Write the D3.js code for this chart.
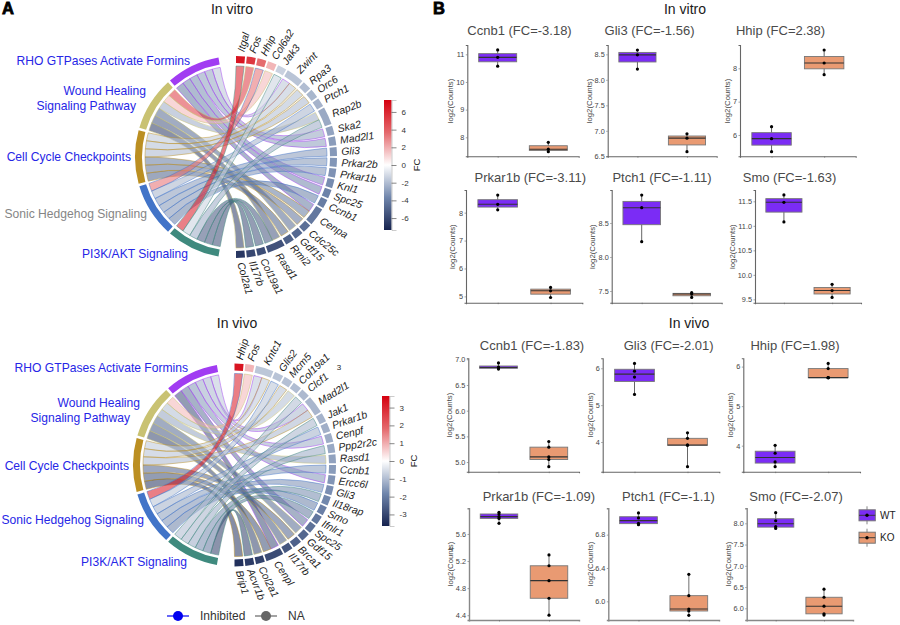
<!DOCTYPE html>
<html><head><meta charset="utf-8">
<script src="https://cdn.jsdelivr.net/npm/d3@7"></script>
<style>
html,body{margin:0;padding:0;background:#fff}
svg{display:block}
text{font-family:"Liberation Sans",Arial,sans-serif}
</style></head><body>
<svg id="c" width="900" height="625" viewBox="0 0 900 625"></svg>
<script>
// ---------- chord data ----------
const termNames = ["RHO GTPases Activate Formins","Wound Healing\nSignaling Pathway","Cell Cycle Checkpoints","Sonic Hedgehog Signaling","PI3K/AKT Signaling"];
const termColors = ["#a13cf2","#c9c272","#bb8f22","#4274c8","#3f8a7e"];

const vitroGenes = ["Itgal","Fos","Hhip","Col6a2","Jak3","Zwint","Rpa3","Orc6","Ptch1","Rap2b","Ska2","Mad2l1","Gli3","Prkar2b","Prkar1b","Knl1","Spc25","Ccnb1","Cenpa","Cdc25c","Gdf15","Rmi2","Rasd1","Col19a1","Il17rb","Col2a1"];
const vitroFC = [6.6,5.4,3.6,1.8,-1.4,-1.8,-2,-2.2,-2.3,-2.6,-2.8,-3,-3.1,-3.2,-3.3,-3.5,-3.8,-4,-4.2,-4.5,-4.8,-5.1,-5.6,-5.8,-6,-6.6];
const vitroRHO = ["Zwint","Ska2","Mad2l1","Knl1","Spc25","Cenpa"];
const vitroWound = ["Fos","Col6a2","Rap2b","Gdf15","Rasd1","Col2a1"];
const vitroCell = ["Zwint","Rpa3","Orc6","Cenpa","Cdc25c","Rmi2"];
const vitroSHH = ["Hhip","Ptch1","Gli3","Prkar2b","Prkar1b","Ccnb1"];
const vitroPI3K = ["Itgal","Jak3","Rap2b","Rasd1","Col19a1","Il17rb"];

const vivoGenes = ["Hhip","Fos","Kntc1","Glis2","Mcm5","Col19a1","Clcf1","Mad2l1","Jak1","Prkar1b","Cenpf","Ppp2r2c","Rasd1","Ccnb1","Ercc6l","Gli3","Il18rap","Smo","Ifnlr1","Spc25","Gdf15","Brca1","Il17rb","Cenpl","Col2a1","Acvr1b","Brip1"];
const vivoFC = [3.3,0.9,-0.85,-0.9,-0.95,-1,-1.05,-1.1,-1.15,-1.2,-1.25,-1.3,-1.4,-1.5,-1.6,-1.7,-1.8,-1.95,-2.1,-2.2,-2.4,-2.5,-2.7,-2.9,-3.1,-3.2,-3.4];
const vivoRHO = ["Kntc1","Mad2l1","Cenpf","Ercc6l","Spc25","Cenpl"];
const vivoWound = ["Fos","Col19a1","Rasd1","Gdf15","Il17rb","Col2a1"];
const vivoCell = ["Kntc1","Mcm5","Mad2l1","Brca1","Cenpl","Brip1"];
const vivoSHH = ["Hhip","Glis2","Prkar1b","Ccnb1","Gli3","Smo"];
const vivoPI3K = ["Clcf1","Jak1","Ppp2r2c","Il18rap","Ifnlr1","Acvr1b"];

// ---------- box plot data (log2 counts per sample) ----------
const groups = ["WT","KO"];
const vitroCcnb1 = [[11.16,10.89,10.57],[7.82,7.57,7.48]];
const vitroGli3 = [[8.585,8.49,8.21],[6.94,6.856,6.59]];
const vitroHhip = [[6.25,5.89,5.5],[8.55,8.16,7.81]];
const vitroPrkar1b = [[8.63,8.3,8.1],[5.32,5.2,4.96]];
const vitroPtch1 = [[8.91,8.725,8.225],[7.475,7.455,7.405]];
const vitroSmo = [[11.63,11.48,11.08],[9.806,9.68,9.54]];
const vivoCcnb1 = [[6.93,6.85,6.83,6.81],[5.4,5.29,5.1,5.05,4.91]];
const vivoGli3 = [[6.13,5.92,5.76,5.29],[4.25,4.1,3.92,3.91,3.33]];
const vivoHhip = [[4.01,3.81,3.59,3.47],[6.08,5.95,5.72,5.72,5.72]];
const vivoPrkar1b = [[5.92,5.895,5.856,5.83,5.757],[5.29,5.13,4.91,4.65,4.4]];
const vivoPtch1 = [[7.06,7,6.936,6.92],[6.324,6.068,5.908,5.884,5.832]];
const vivoSmo = [[8.25,8.06,7.92,7.88],[6.45,6.26,6.05,5.87,5.84]];

const titles = ["Ccnb1 (FC=-3.18)","Gli3 (FC=-1.56)","Hhip (FC=2.38)","Prkar1b (FC=-3.11)","Ptch1 (FC=-1.11)","Smo (FC=-1.63)","Ccnb1 (FC=-1.83)","Gli3 (FC=-2.01)","Hhip (FC=1.98)","Prkar1b (FC=-1.09)","Ptch1 (FC=-1.1)","Smo (FC=-2.07)"];
const tickSets = [[8,9,10,11],[6.5,7,7.5,8,8.5],[6,7,8],[5,6,7,8],[7.5,8,8.5],[9.5,10,10.5,11,11.5],[5,5.5,6,6.5,7],[4,5,6],[4,5,6],[4.4,4.8,5.2,5.6],[6,6.4,6.8],[6,6.5,7,7.5,8]];
const yDomains = [[7.313,11.337],[6.5,8.683],[5.36,8.7],[4.774,8.812],[7.328,8.985],[9.432,11.731],[4.812,7.02],[3.195,6.27],[3.342,6.21],[4.329,5.979],[5.776,7.116],[5.725,8.353]];
const tickDigits = [0,1,0,0,1,1,1,0,0,1,1,1];

// ---------- layout & style ----------
const svg = d3.select("#c");
const navy="#16234f", red="#d5000f", steel="#7086ac", coral="#e4686c";
const gap = 1.5, unit = (160-4*gap)/30;          // degrees
const rad = d => d*Math.PI/180;

function chord(o){
  const g = svg.append("g").attr("transform",`translate(${o.cx},${o.cy})`);
  const stops=[-o.max,-o.max/2,0,o.max/2,o.max];
  const color = d3.scaleLinear().domain(stops).range([navy,steel,"#ffffff",coral,red]);
  const lists = o.terms;
  const count = new Map(o.genes.map(n=>[n,0]));
  lists.forEach(l=>l.forEach(n=>count.set(n,count.get(n)+1)));
  const geneGap = (180-30*unit)/(o.genes.length-1);
  let a = 0; const gpos = new Map();
  o.genes.forEach((n,i)=>{ const w=count.get(n)*unit; gpos.set(n,{s:a,e:a+w,next:a,fc:o.fc[i]}); a+=w+geneGap; });
  let t = 350; const links=[];
  const tpos = lists.map((l,ti)=>{
    const e=t, s=t-l.length*unit;
    l.forEach((n,k)=>{
      links.push({term:ti,gene:n,te:e-k*unit,ts:e-(k+1)*unit});
    });
    t = s-gap; return {s,e,ti};
  });
  links.slice().sort((p,q)=>q.te-p.te).forEach(l=>{
    const p=gpos.get(l.gene); l.gs=p.next; l.ge=p.next+unit; p.next+=unit; l.fc=p.fc;
  });
  const ribbon = d3.ribbon().radius(o.r0);
  g.selectAll("path.link").data(links).join("path").attr("class","link")
    .attr("d",d=>ribbon({source:{startAngle:rad(d.ts),endAngle:rad(d.te)},target:{startAngle:rad(d.gs),endAngle:rad(d.ge)}}))
    .attr("fill",d=>color(d.fc)).attr("fill-opacity",.55)
    .attr("stroke",d=>termColors[d.term]).attr("stroke-width",.6).attr("stroke-opacity",.8);
  const arc = d3.arc().innerRadius(o.r1).outerRadius(o.r2);
  g.selectAll("path.term").data(tpos).join("path").attr("class","term")
    .attr("d",d=>arc({startAngle:rad(d.s),endAngle:rad(d.e)})).attr("fill",d=>termColors[d.ti]);
  const gl=o.genes.map(n=>gpos.get(n));
  g.selectAll("path.gene").data(gl).join("path").attr("class","gene")
    .attr("d",d=>arc({startAngle:rad(d.s),endAngle:rad(d.e)})).attr("fill",d=>color(d.fc));
  g.selectAll("text.gl").data(o.genes).join("text").attr("class","gl")
    .attr("transform",n=>{const p=gpos.get(n),m=(p.s+p.e)/2;
      const x=o.r3*Math.sin(rad(m)), y=-o.r3*Math.cos(rad(m));
      return `translate(${x},${y}) rotate(${(m-90)*0.85})`;})
    .attr("dy","0.35em").attr("font-style","italic").attr("font-size",10.4).attr("fill","#1c1c1c").text(n=>n);
  o.labels.forEach((l)=>{
    l.lines.forEach((ln)=>{
      svg.append("text").attr("x",ln.x).attr("y",ln.y).attr("dy","0.35em").attr("text-anchor","end")
        .attr("font-size",12.1).attr("fill",l.grey?"#858585":"#2626e6").text(ln.t);
    });
  });
  const defs=svg.append("defs");
  const gr=defs.append("linearGradient").attr("id",o.id).attr("x1",0).attr("x2",0).attr("y1",1).attr("y2",0);
  stops.forEach(v=>gr.append("stop").attr("offset",(v+o.max)/(2*o.max)).attr("stop-color",color(v)));
  svg.append("rect").attr("x",o.bar.x).attr("y",o.bar.y).attr("width",o.bar.w).attr("height",o.bar.h).attr("fill",`url(#${o.id})`);
  const ys=d3.scaleLinear().domain([-o.max,o.max]).range([o.bar.y+o.bar.h,o.bar.y]);
  const ax=svg.append("g").attr("transform",`translate(${o.bar.x+o.bar.w},0)`).call(d3.axisRight(ys).tickValues(o.ticks).tickSize(5).tickPadding(5).tickFormat(d=>String(d)));
  ax.select(".domain").attr("stroke","#aaa").attr("stroke-width",.6);
  ax.selectAll("line").attr("stroke","#555").attr("stroke-width",.7);
  ax.selectAll("text").attr("font-size",8).attr("fill","#333").attr("font-family",'"Liberation Sans"');
  svg.append("text").attr("transform",`translate(${o.bar.fx},${o.bar.y+o.bar.h/2}) rotate(-90)`).attr("text-anchor","middle").attr("dy","0.35em").attr("font-size",9.5).attr("fill","#222").text("FC");
}

chord({id:"g1",cx:236,cy:157,r0:91,r1:94,r2:101,r3:105.5,genes:vitroGenes,fc:vitroFC,max:7.35,
  terms:[vitroRHO,vitroWound,vitroCell,vitroSHH,vitroPI3K],ticks:[-6,-4,-2,0,2,4,6],
  bar:{x:384,y:100,w:7.5,h:130,fx:417},
  labels:[{lines:[{t:termNames[0],x:190,y:61}]},
    {lines:[{t:termNames[1].split("\n")[0],x:146,y:91},{t:termNames[1].split("\n")[1],x:136,y:106}]},
    {lines:[{t:termNames[2],x:131,y:157}]},{grey:true,lines:[{t:termNames[3],x:147,y:214}]},{lines:[{t:termNames[4],x:188,y:254}]}]});
chord({id:"g2",cx:234.5,cy:465,r0:91.5,r1:94.5,r2:101.5,r3:105.5,genes:vivoGenes,fc:vivoFC,max:3.65,
  terms:[vivoRHO,vivoWound,vivoCell,vivoSHH,vivoPI3K],ticks:[-3,-2,-1,0,1,2,3],
  bar:{x:382,y:396,w:7.5,h:130,fx:414},
  labels:[{lines:[{t:termNames[0],x:188,y:368}]},
    {lines:[{t:termNames[1].split("\n")[0],x:140,y:403},{t:termNames[1].split("\n")[1],x:130,y:418}]},
    {lines:[{t:termNames[2],x:129,y:466}]},{lines:[{t:termNames[3],x:144,y:520}]},{lines:[{t:termNames[4],x:187,y:562}]}]});
svg.append("text").attr("x",339).attr("y",367).attr("dy","0.35em").attr("text-anchor","middle").attr("font-size",8).attr("fill","#222").text("3");

const heading=(t,x,y)=>svg.append("text").attr("x",x).attr("y",y).attr("dy","0.35em").attr("text-anchor","middle").attr("font-size",14).attr("fill","#1a1a1a").text(t);
heading("In vitro",232,9.5); heading("In vivo",237,323); heading("In vitro",685,9.5); heading("In vivo",689,323);
const panelLetter=(t,x,y)=>svg.append("text").attr("x",x).attr("y",y).attr("font-size",16.5).attr("font-weight",700).attr("fill","#000").attr("stroke","#000").attr("stroke-width",.8).text(t);
panelLetter("A",2,14); panelLetter("B",433,14);

[[167,189,"#0000f0","Inhibited",200],[255,277,"#666666","NA",288]].forEach(([x0,x1,c,t,tx])=>{
  svg.append("line").attr("x1",x0).attr("x2",x1).attr("y1",616).attr("y2",616).attr("stroke",c).attr("stroke-width",1.2);
  svg.append("circle").attr("cx",(x0+x1)/2).attr("cy",616).attr("r",5).attr("fill",c);
  svg.append("text").attr("x",tx).attr("y",616).attr("dy","0.35em").attr("font-size",12).attr("fill","#333").text(t);
});

// ---------- box plots ----------
const fills={WT:"#7b2cf5",KO:"#e99a72"};
const boxFrames=[
 {l:467.3,r:578.7,t:45,b:156.3,tc:519.5,ty:30,yl:450.7,yc:101},
 {l:607.7,r:716.7,t:45,b:156.3,tc:649.5,ty:30,yl:589,yc:101},
 {l:740,r:855.7,t:45,b:156.3,tc:780.5,ty:30,yl:727.7,yc:101},
 {l:466,r:582.3,t:190,b:302.7,tc:530.3,ty:177.7,yl:452.7,yc:246.7},
 {l:611.7,r:721.7,t:190,b:302.7,tc:662,ty:177.7,yl:592.7,yc:246.7},
 {l:755,r:861,t:190,b:302.7,tc:789.5,ty:177.7,yl:732,yc:246.7},
 {l:468.3,r:579,t:358.3,b:471.7,tc:532,ty:345,yl:449.3,yc:415},
 {l:602.7,r:719.3,t:358.3,b:471.7,tc:668.7,ty:345,yl:590,yc:415},
 {l:743.3,r:860,t:358.3,b:471.7,tc:795,ty:345,yl:730.7,yc:415},
 {l:469,r:579,t:508.3,b:620,tc:538.8,ty:496,yl:450.7,yc:564},
 {l:608.3,r:719,t:508.3,b:620,tc:668.5,ty:496,yl:590,yc:564},
 {l:746.7,r:853,t:508.3,b:620,tc:796,ty:496,yl:728,yc:564}];
const boxData=[vitroCcnb1,vitroGli3,vitroHhip,vitroPrkar1b,vitroPtch1,vitroSmo,vivoCcnb1,vivoGli3,vivoHhip,vivoPrkar1b,vivoPtch1,vivoSmo];

boxData.forEach((data,i)=>{
  const f=boxFrames[i], g=svg.append("g");
  const soft=i>=9;
  const x=d3.scalePoint().domain(groups).range([f.l,f.r]).padding(.6);
  const y=d3.scaleLinear().domain(yDomains[i]).range([f.b,f.t]);
  const bw=x.step()*.75;
  const ax=g.append("g").attr("transform",`translate(${f.l},0)`).call(d3.axisLeft(y).tickValues(tickSets[i]).tickSize(1.5).tickPadding(1.5).tickFormat(d3.format(`.${tickDigits[i]}f`)));
  const bx=g.append("g").attr("transform",`translate(0,${f.b})`).call(d3.axisBottom(x).tickSize(1.5).tickFormat(""));
  [ax,bx].forEach(a=>{a.select(".domain").attr("stroke",soft?"#888":"#666").attr("stroke-width",soft?1.4:1.1);a.selectAll("line").attr("stroke","#666").attr("stroke-width",.6);});
  ax.selectAll("text").attr("font-size",7.3).attr("fill","#444").attr("font-family",'"Liberation Sans"');
  groups.forEach((k,gi)=>{
    const v=data[gi].slice().sort(d3.ascending);
    const q1=d3.quantile(v,.25),m=d3.quantile(v,.5),q3=d3.quantile(v,.75);
    g.append("line").attr("x1",x(k)).attr("x2",x(k)).attr("y1",y(v[0])).attr("y2",y(v[v.length-1])).attr("stroke",soft?"#888":"#555").attr("stroke-width",soft?1.2:.9);
    g.append("rect").attr("x",x(k)-bw/2).attr("width",bw).attr("y",y(q3)).attr("height",Math.max(y(q1)-y(q3),1))
      .attr("fill",fills[k]).attr("stroke","#777").attr("stroke-width",.9);
    g.append("line").attr("x1",x(k)-bw/2).attr("x2",x(k)+bw/2).attr("y1",y(m)).attr("y2",y(m)).attr("stroke","#333").attr("stroke-width",1.1);
    g.selectAll(null).data(v).join("circle").attr("cx",x(k)).attr("cy",d=>y(d)).attr("r",1.6).attr("fill","#000");
  });
  svg.append("text").attr("x",f.tc).attr("y",f.ty).attr("dy","0.35em").attr("text-anchor","middle").attr("font-size",13).attr("fill","#4a4a4a").text(titles[i]);
  svg.append("text").attr("transform",`translate(${f.yl},${f.yc}) rotate(-90)`).attr("dy","0.35em").attr("text-anchor","middle").attr("font-size",7.8).attr("fill","#444").text("log2(Counts)");
});
svg.append("text").attr("transform","translate(451.5,549) rotate(-90)").attr("dy","0.35em").attr("text-anchor","middle").attr("font-size",7.8).attr("fill","#444").text("4");

[["WT",515.3],["KO",537.7]].forEach(([k,cy])=>{
  svg.append("line").attr("x1",867).attr("x2",867).attr("y1",cy-9).attr("y2",cy+9).attr("stroke","#777").attr("stroke-width",.9);
  svg.append("rect").attr("x",859).attr("y",cy-5.5).attr("width",16.3).attr("height",11).attr("fill",fills[k]).attr("stroke","#777").attr("stroke-width",1);
  svg.append("line").attr("x1",859).attr("x2",875.3).attr("y1",cy).attr("y2",cy).attr("stroke","#333").attr("stroke-width",.9);
  svg.append("circle").attr("cx",867).attr("cy",cy).attr("r",1.7).attr("fill","#000");
  svg.append("text").attr("x",880).attr("y",cy).attr("dy","0.35em").attr("font-size",10).attr("fill","#222").text(k);
});
</script></body></html>
